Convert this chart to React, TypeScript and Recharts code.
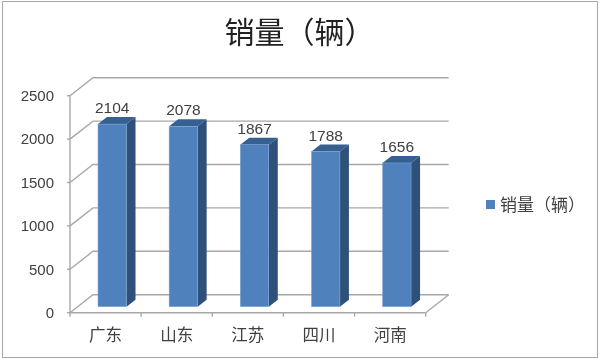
import React from "react";
import { BarChart, Bar, XAxis, YAxis, CartesianGrid, Legend } from "recharts";

const categories = ["广东", "山东", "江苏", "四川", "河南"];
const sales = [2104, 2078, 1867, 1788, 1656];
const yTicks = [0, 500, 1000, 1500, 2000, 2500];
const seriesName = "销量（辆）";
const titleText = "销量（辆）";

const data = categories.map((name, i) => ({ name, sales: sales[i] }));

const CJK = '"Noto Sans CJK SC", "Noto Sans", sans-serif';
const LATIN = '"Liberation Sans", Arial, sans-serif';
const GRID = "#a8a8a8";
const TEXT = "#404040";
const WALL_DX = 23;
const WALL_DY = -18;
const BAR_DX = 7;
const BAR_DY = -6;
const DEPTH_X = 9;
const DEPTH_Y = -7;
const BAND = 71.1;
const TICK_OFFSET = 8;

const GridRow = (p: any) => {
  const { x1, x2, y1 } = p;
  const isFloor = y1 > 300;
  return (
    <g fill="none" stroke={GRID} strokeWidth={1.4}>
      <path d={`M${x1} ${y1}L${x1 + WALL_DX} ${y1 + WALL_DY}L${x2 + WALL_DX} ${y1 + WALL_DY}`} />
      {isFloor && <path d={`M${x2} ${y1}L${x2 + WALL_DX} ${y1 + WALL_DY}`} />}
    </g>
  );
};

const Bar3D = (p: any) => {
  const x = p.x + BAR_DX;
  const y = p.y + BAR_DY;
  const w = p.width;
  const h = p.height;
  return (
    <g>
      <path d={`M${x + w} ${y}l${DEPTH_X} ${DEPTH_Y}v${h}l${-DEPTH_X} ${-DEPTH_Y}z`} fill="#2f5078" />
      <path d={`M${x} ${y}l${DEPTH_X} ${DEPTH_Y}h${w}l${-DEPTH_X} ${-DEPTH_Y}z`} fill="#35608f" />
      <rect x={x} y={y} width={w} height={h} fill="#4f81bd" stroke="#7fa6d6" strokeWidth={0.5} />
    </g>
  );
};

const BarValue = (p: any) => (
  <text
    x={p.x + p.width / 2 + BAR_DX}
    y={p.y + BAR_DY - 11}
    textAnchor="middle"
    fontFamily={LATIN}
    fontSize={15.5}
    fill={TEXT}
  >
    {p.value}
  </text>
);

const CategoryTick = (p: any) => {
  const { x, y, payload, index } = p;
  const base = y - TICK_OFFSET;
  const left = x - BAND / 2;
  const right = x + BAND / 2;
  return (
    <g>
      <path d={`M${left} ${base}v4`} stroke={GRID} strokeWidth={1.4} />
      {index === categories.length - 1 && <path d={`M${right} ${base}v4`} stroke={GRID} strokeWidth={1.4} />}
      <text x={x} y={base + 28} textAnchor="middle" fontFamily={CJK} fontSize={16.5} fill={TEXT}>
        {payload.value}
      </text>
    </g>
  );
};

const LegendContent = () => (
  <div style={{ display: "flex", alignItems: "center", fontFamily: CJK, fontSize: 17, lineHeight: "20px", color: TEXT, whiteSpace: "nowrap" }}>
    <span style={{ width: 9, height: 9, background: "#4f81bd", marginRight: 5, display: "inline-block", flex: "none" }} />
    {seriesName}
  </div>
);

export default function App() {
  return (
    <div
      style={{
        position: "absolute",
        left: 0,
        top: 0,
        width: 600,
        height: 359,
        background: "#fff",
        filter: "blur(0.4px)",
      }}
    >
      <div
        style={{
          position: "absolute",
          left: 2,
          top: 1,
          width: 594,
          height: 355,
          border: "1.5px solid #a6a6a6",
          boxSizing: "content-box",
        }}
      />
      <div
        style={{
          position: "absolute",
          left: 0,
          top: 12,
          width: 599,
          textAlign: "center",
          fontFamily: CJK,
          fontSize: 30,
          lineHeight: "36px",
          color: "#222",
        }}
      >
        {titleText}
      </div>
      <BarChart
        width={600}
        height={359}
        data={data}
        margin={{ top: 95.7, right: 74.3, bottom: 0, left: 0 }}
        style={{ position: "absolute", left: 0, top: 0 }}
      >
        <CartesianGrid vertical={false} horizontal={(p: any) => <GridRow key={p.key ?? p.y1} {...p} />} />
        <XAxis
          dataKey="name"
          height={46.3}
          axisLine={{ stroke: GRID, strokeWidth: 1.4 }}
          tickLine={false}
          tick={<CategoryTick />}
          interval={0}
        />
        <YAxis
          width={70}
          domain={[0, 2500]}
          ticks={yTicks}
          axisLine={{ stroke: GRID, strokeWidth: 1.4 }}
          tickLine={{ stroke: GRID, strokeWidth: 1.4 }}
          tickSize={3}
          tickMargin={13}
          tick={{ fontFamily: LATIN, fontSize: 15, fill: TEXT }}
        />
        <Legend
          layout="vertical"
          align="right"
          verticalAlign="middle"
          content={<LegendContent />}
          wrapperStyle={{ position: "absolute", left: 486, top: 194, width: 100, right: "auto" }}
        />
        <Bar
          dataKey="sales"
          name={seriesName}
          barSize={28.5}
          isAnimationActive={false}
          shape={<Bar3D />}
          label={<BarValue />}
        />
      </BarChart>
    </div>
  );
}
